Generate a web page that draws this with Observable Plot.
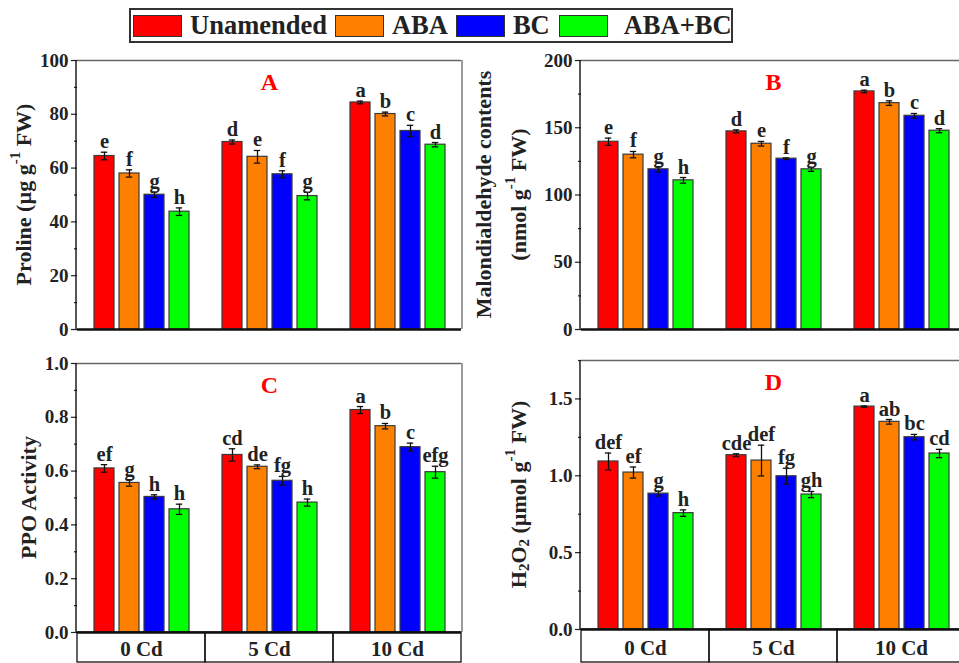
<!DOCTYPE html>
<html><head><meta charset="utf-8">
<script src="https://cdn.jsdelivr.net/npm/d3@7"></script>
<script src="https://cdn.jsdelivr.net/npm/@observablehq/plot@0.6"></script>
<style>
html,body{margin:0;padding:0;background:#fff;}
body{width:959px;height:663px;overflow:hidden;position:relative;font-family:"Liberation Serif","Times New Roman",serif;}
.panel{position:absolute;}
.panel svg{overflow:visible;display:block;}
#legend{position:absolute;left:129px;top:8px;width:600px;height:31px;border:2px solid #333;box-sizing:content-box;display:flex;align-items:center;font-weight:bold;font-size:26.5px;color:#222;}
#legend .sw{width:47px;height:20px;border:1px solid #333;flex:none;}
#legend .lb{flex:none;white-space:nowrap;line-height:1;}
</style></head><body>
<div id="legend"></div>
<div id="pA" class="panel" style="left:0;top:50px"></div>
<div id="pB" class="panel" style="left:470px;top:50px"></div>
<div id="pC" class="panel" style="left:0;top:353px"></div>
<div id="pD" class="panel" style="left:470px;top:350px"></div>
<script>
const treatments = ["Unamended","ABA","BC","ABA+BC"];
const treatmentColors = ["#ff0000","#ff8000","#0000ff","#00ff00"];
const doses = ["0 Cd","5 Cd","10 Cd"];

const prolineMean = [64.5,58.0,50.1,43.8, 69.7,64.2,57.7,49.6, 84.4,80.1,73.8,68.7];
const prolineErr  = [1.4,1.35,1.0,1.4, 0.75,2.35,1.3,1.4, 0.5,0.7,2.1,0.8];
const prolineLetters = ["e","f","g","h","d","e","f","g","a","b","c","d"];
const prolineTicks = [0,20,40,60,80,100];
const prolineMinor = [10,30,50,70,90];

const mdaMean = [139.6,130.0,119.1,110.9, 147.3,138.1,127.0,119.1, 177.0,168.3,158.9,147.8];
const mdaErr  = [2.7,2.35,2.0,2.1, 1.1,1.7,0.6,1.5, 0.9,1.7,1.7,1.5];
const mdaLetters = ["e","f","g","h","d","e","f","g","a","b","c","d"];
const mdaTicks = [0,50,100,150,200];
const mdaMinor = [25,75,125,175];

const ppoMean = [0.610,0.556,0.504,0.458, 0.660,0.616,0.564,0.483, 0.827,0.767,0.689,0.596];
const ppoErr  = [0.014,0.012,0.008,0.019, 0.023,0.007,0.016,0.013, 0.013,0.010,0.015,0.022];
const ppoLetters = ["ef","g","h","h","cd","de","fg","h","a","b","c","efg"];
const ppoTicks = [0,0.2,0.4,0.6,0.8,1.0];
const ppoMinor = [0.1,0.3,0.5,0.7,0.9];

const h2o2Mean = [1.093,1.021,0.884,0.757, 1.134,1.099,0.997,0.878, 1.450,1.351,1.251,1.145];
const h2o2Err  = [0.055,0.036,0.016,0.021, 0.009,0.100,0.052,0.020, 0.004,0.015,0.018,0.027];
const h2o2Letters = ["def","ef","g","h","cde","def","fg","gh","a","ab","bc","cd"];
const h2o2Ticks = [0,0.5,1.0,1.5];
const h2o2Minor = [0.25,0.75,1.25,1.75];

// legend
const legend = document.getElementById("legend");
const gaps = [[2,8],[8,8],[8,8],[9,16]];
treatments.forEach((t,i)=>{
  const sw = document.createElement("div"); sw.className="sw"; sw.style.background=treatmentColors[i]; sw.style.marginLeft=gaps[i][0]+"px";
  const lb = document.createElement("div"); lb.className="lb"; lb.textContent=t; lb.style.marginLeft=gaps[i][1]+"px";
  legend.appendChild(sw); legend.appendChild(lb);
});

const FRAME_W = 386, FRAME_H = 269;

function panel(cfg){
  const {el, mean, err, letters, ymax, ticks, minor, fmt, title, marginLeft, marginTop, marginBottom, band, bandDepth, label} = cfg;
  const width = marginLeft + FRAME_W;
  const height = marginTop + FRAME_H + marginBottom;
  const rows = [];
  doses.forEach((dose,i)=>treatments.forEach((t,j)=>{
    const k=i*4+j; rows.push({dose, treatment:t, mean:mean[k], err:err[k], letter:letters[k]});
  }));
  const marks = [
    Plot.barY(rows, {fx:"dose", x:"treatment", y:"mean", fill:"treatment", stroke:"#3a3a3a", strokeWidth:1.2}),
    Plot.ruleX(rows, {fx:"dose", x:"treatment", y1:d=>d.mean-d.err, y2:d=>d.mean+d.err, stroke:"#111", strokeWidth:1.3}),
    Plot.tickY(rows, {fx:"dose", x:"treatment", y:d=>d.mean+d.err, stroke:"#111", strokeWidth:1.3, insetLeft:6.8, insetRight:6.8}),
    Plot.tickY(rows, {fx:"dose", x:"treatment", y:d=>d.mean-d.err, stroke:"#111", strokeWidth:1.3, insetLeft:6.8, insetRight:6.8}),
    Plot.text(rows, {fx:"dose", x:"treatment", y:d=>d.mean+d.err, text:"letter", lineAnchor:"bottom", dy:-4, fontSize:20.5, fontWeight:"bold", fill:"#222"}),
    Plot.ruleY([ymax], {stroke:"#666", strokeWidth:1.3}),
    Plot.ruleY([0], {stroke:"#111", strokeWidth:2.4}),
    Plot.axisY({ticks, tickFormat:fmt, tickSize:6, tickPadding:3, label:null, fontSize:19, fontWeight:"bold", color:"#222", strokeWidth:1.2}),
    Plot.axisY({ticks:minor, tickFormat:()=>"", tickSize:3, label:null, color:"#222", strokeWidth:1.2}),
    Plot.text([{dose:doses[1], t:title}], {fx:"dose", text:"t", frameAnchor:"top", lineAnchor:"middle", dy:22, fill:"#ff0000", fontSize:24, fontWeight:"bold"})
  ];
  if (band) {
    const depth = bandDepth / FRAME_H * ymax;
    marks.push(Plot.rect(doses, {fx:d=>d, y1:0, y2:-depth, fill:"none", stroke:"#111", strokeWidth:1.3}));
    marks.push(Plot.text(doses, {fx:d=>d, text:d=>d, frameAnchor:"bottom", lineAnchor:"middle", dy:bandDepth/2+2, fontSize:21, fontWeight:"bold", fill:"#222"}));
  }
  const plot = Plot.plot({
    width, height, marginLeft, marginTop, marginBottom, marginRight:0,
    style:{fontFamily:"'Liberation Serif','Times New Roman',serif", fontWeight:"bold", fontSize:"19px", background:"transparent", maxWidth:"none", overflow:"visible"},
    fx:{domain:doses, paddingInner:0, paddingOuter:0, axis:null},
    x:{domain:treatments, paddingInner:0.2, paddingOuter:0.6, axis:null},
    y:{domain:[0,ymax], axis:null},
    color:{domain:treatments, range:treatmentColors},
    marks
  });
  const svg = d3.select(plot);
  svg.append("line").attr("x1",marginLeft).attr("x2",marginLeft).attr("y1",marginTop).attr("y2",marginTop+FRAME_H).attr("stroke","#111").attr("stroke-width",1.4);
  svg.append("line").attr("x1",marginLeft+FRAME_W).attr("x2",marginLeft+FRAME_W).attr("y1",marginTop).attr("y2",marginTop+FRAME_H).attr("stroke","#666").attr("stroke-width",1.3);
  label.forEach(line=>{
    const t = svg.append("text")
      .attr("transform",`translate(${line.x},${marginTop+FRAME_H/2}) rotate(-90)`)
      .attr("text-anchor","middle").attr("dominant-baseline","central")
      .attr("font-size",22).attr("font-weight","bold").attr("fill","#222");
    let shift = 0;
    line.parts.forEach(p=>{
      const s = t.append("tspan");
      if (typeof p === "string") { s.text(p); if (shift) { s.attr("dy", -shift); shift = 0; } }
      else {
        const off = p.sup ? -8 : 6;
        s.text(p.sup || p.sub).attr("font-size",15).attr("dy", off - shift);
        shift = off;
      }
    });
  });
  document.getElementById(el).appendChild(plot);
}

panel({el:"pA", mean:prolineMean, err:prolineErr, letters:prolineLetters, ymax:100, ticks:prolineTicks, minor:prolineMinor, fmt:d3.format("d"), title:"A",
  marginLeft:76, marginTop:10, marginBottom:8, band:false,
  label:[{x:23, parts:["Proline (\u00b5g g",{sup:"-1"}," FW)"]}]});
panel({el:"pB", mean:mdaMean, err:mdaErr, letters:mdaLetters, ymax:200, ticks:mdaTicks, minor:mdaMinor, fmt:d3.format("d"), title:"B",
  marginLeft:110, marginTop:10, marginBottom:8, band:false,
  label:[{x:13, parts:["Malondialdehyde contents"]},{x:48, parts:["(nmol g",{sup:"-1"}," FW)"]}]});
panel({el:"pC", mean:ppoMean, err:ppoErr, letters:ppoLetters, ymax:1.0, ticks:ppoTicks, minor:ppoMinor, fmt:d3.format(".1f"), title:"C",
  marginLeft:76, marginTop:10, marginBottom:32, band:true, bandDepth:30,
  label:[{x:28, parts:["PPO Activity"]}]});
panel({el:"pD", mean:h2o2Mean, err:h2o2Err, letters:h2o2Letters, ymax:1.75, ticks:h2o2Ticks, minor:h2o2Minor, fmt:d3.format(".1f"), title:"D",
  marginLeft:110, marginTop:10, marginBottom:34, band:true, bandDepth:33,
  label:[{x:48, parts:["H",{sub:"2"},"O",{sub:"2"}," (\u00b5mol g",{sup:"-1"}," FW)"]}]});
</script>
</body></html>
